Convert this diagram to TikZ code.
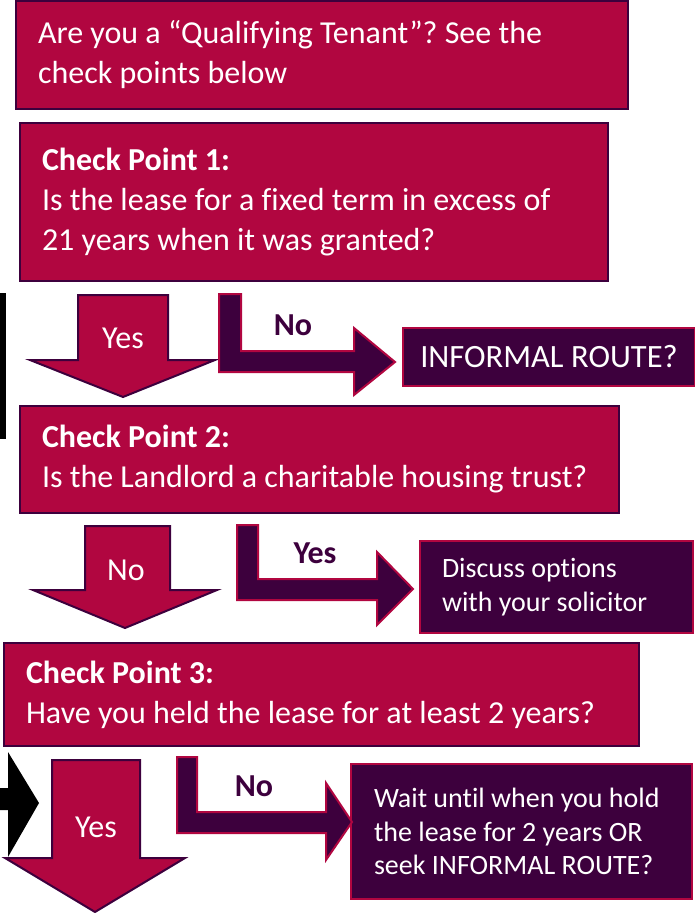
\documentclass[tikz,border=0pt]{standalone}
\usepackage{fontspec}
\setmainfont[Ligatures={TeX,NoCommon}]{Carlito}
\usetikzlibrary{positioning}
\definecolor{Crimson}{RGB}{177,6,64}
\definecolor{PlumDark}{RGB}{61,0,61}
\frenchspacing
% back to the font's own word gaps inside aligned nodes
\newcommand\fontgaps{\spaceskip=0pt\xspaceskip=0pt\relax}
\tikzset{
  qbox/.style={draw=PlumDark,line width=2pt,fill=Crimson,text=white,anchor=north west,
    align=left,inner xsep=22pt,inner ysep=0pt,font=\fontsize{32}{40}\selectfont,
    execute at begin node=\fontgaps},
  rbox/.style={draw=Crimson,line width=2pt,fill=PlumDark,text=white,anchor=north west,
    align=left,inner xsep=22pt,inner ysep=0pt,font=\fontsize{28}{33.5}\selectfont,
    execute at begin node=\fontgaps},
  downarrow/.style={draw=PlumDark,line width=2pt,fill=Crimson,line join=miter},
  bentarrow/.style={draw=Crimson,line width=2pt,fill=PlumDark,line join=miter},
  inlabel/.style={text=white,font=\fontsize{32}{34}\selectfont},
  armlabel/.style={text=PlumDark,font=\fontsize{32}{34}\selectfont\bfseries}
}

\begin{document}
\begin{tikzpicture}[x=1pt,y=-1pt]
  \useasboundingbox (0,0) rectangle (694,913);

  % question boxes
  \node[qbox,minimum width=612,minimum height=108,text width=568] (ask) at (15,0)
    {Are you a “Qualifying Tenant”? See the\\check points below};
  \node[qbox,minimum width=588,minimum height=158,text width=544] (cpone) at (19,122)
    {\textbf{Check Point 1:}\\Is the lease for a fixed term in excess of\\21 years when it was granted?};
  \node[qbox,minimum width=599,minimum height=107,text width=555] (cptwo) at (19,405)
    {\textbf{Check Point 2:}\\Is the Landlord a charitable housing trust?};
  \node[qbox,minimum width=635,minimum height=103,text width=591] (cpthree) at (3,642)
    {\textbf{Check Point 3:}\\Have you held the lease for at least 2 years?};

  % outcome boxes
  \node[rbox,minimum width=292,minimum height=58,text width=270,inner xsep=11pt,align=center,
    font=\fontsize{32.5}{34}\selectfont] (informal) at (402,327) {INFORMAL ROUTE?};
  \node[rbox,minimum width=273,minimum height=92,text width=229] (discuss) at (419,540)
    {Discuss options\\with your solicitor};
  \node[rbox,minimum width=339,minimum height=135,text width=295,inner xsep=23pt] (wait) at (350,763)
    {Wait until when you hold\\the lease for 2 years OR\\seek INFORMAL ROUTE?};

  % down arrows
  \draw[downarrow] (78,295) -- (168,295) -- (168,360) -- (215,360) -- (123,397)
    -- (30,360) -- (78,360) -- cycle;
  \draw[downarrow] (85,526) -- (170,526) -- (170,590) -- (217,590) -- (125,628)
    -- (33,590) -- (85,590) -- cycle;
  \draw[downarrow] (52,760) -- (140,760) -- (140,858) -- (185,858) -- (95,912)
    -- (5,858) -- (52,858) -- cycle;
  \node[inlabel] (yesone) at (123,338) {Yes};
  \node[inlabel] (notwo) at (126,570) {No};
  \node[inlabel] (yesthree) at (96,827) {Yes};

  % side arrows
  \draw[bentarrow] (219,294) -- (241,294) -- (241,351) -- (354,351) -- (354,328)
    -- (395,362) -- (354,395) -- (354,372) -- (219,372) -- cycle;
  \draw[bentarrow] (237,525) -- (258,525) -- (258,579) -- (377,579) -- (377,552)
    -- (413,589) -- (377,625) -- (377,600) -- (237,600) -- cycle;
  \draw[bentarrow] (177,757) -- (197,757) -- (197,812) -- (326,812) -- (326,783)
    -- (352,822) -- (326,860) -- (326,833) -- (177,833) -- cycle;
  \node[armlabel] (noone) at (293,325) {No};
  \node[armlabel] (yestwo) at (315,553) {Yes};
  \node[armlabel] (nothree) at (254,786) {No};

  % black marks on the left edge
  \fill[black] (0,293) rectangle (6,439);
  \fill[black] (0,788) -- (8,788) -- (8,752) -- (39,803) -- (8,857) -- (8,810)
    -- (0,810) -- cycle;
\end{tikzpicture}
\end{document}
